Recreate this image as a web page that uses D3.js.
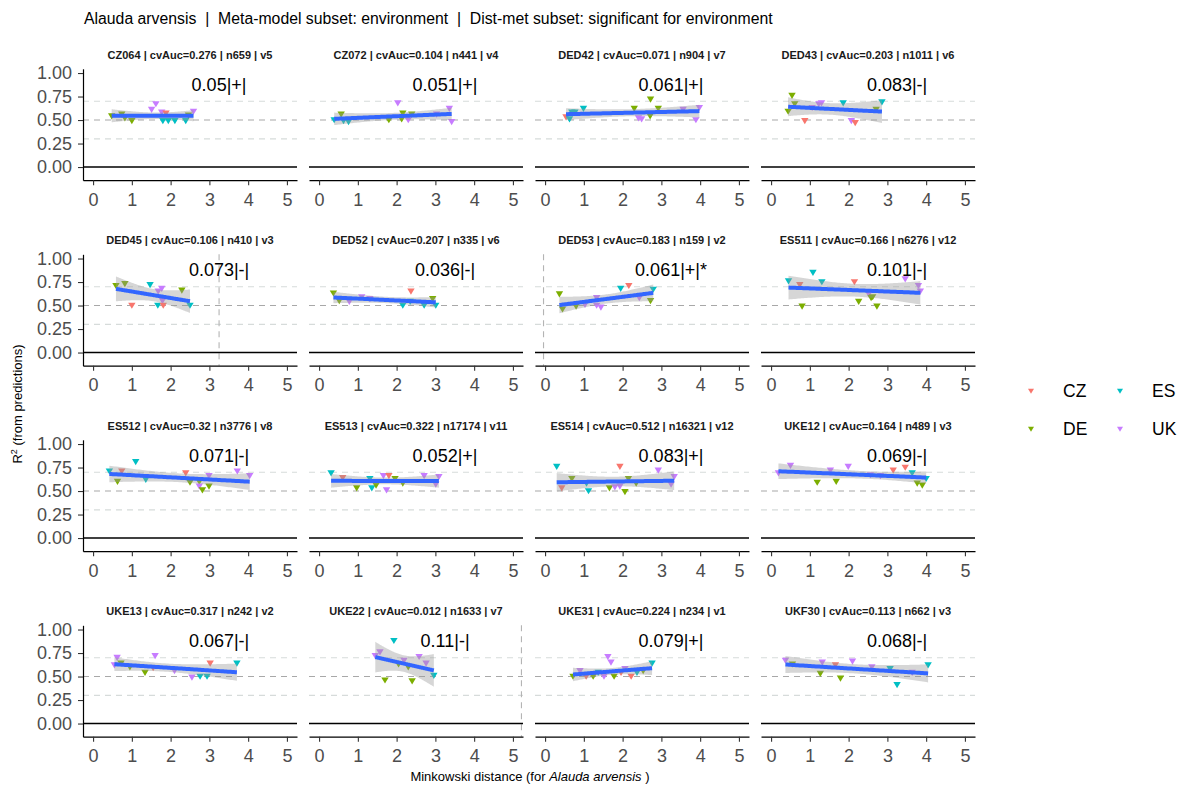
<!DOCTYPE html>
<html>
<head>
<meta charset="utf-8">
<script src="https://cdn.jsdelivr.net/npm/d3@7"></script>
<style>
  body { margin: 0; background: #ffffff; }
  svg { display: block; font-family: "Liberation Sans", Arial, sans-serif; }
</style>
</head>
<body>
<svg id="chart" width="1183" height="789"></svg>
<script>
// ---- data -------------------------------------------------------------
const regions = ["CZ", "DE", "ES", "UK"];
const regionColors = ["#F8766D", "#7CAE00", "#00BFC4", "#C77CFF"];

const panelIds = ["CZ064", "CZ072", "DED42", "DED43", "DED45", "DED52", "DED53", "ES511",
                  "ES512", "ES513", "ES514", "UKE12", "UKE13", "UKE22", "UKE31", "UKF30"];
const cvAuc = ["0.276", "0.104", "0.071", "0.203", "0.106", "0.207", "0.183", "0.166",
               "0.32", "0.322", "0.512", "0.164", "0.317", "0.012", "0.224", "0.113"];
const nObs = [659, 441, 904, 1011, 410, 335, 159, 6276, 3776, 17174, 16321, 489, 242, 1633, 234, 662];
const nVars = [5, 4, 7, 6, 3, 6, 2, 12, 8, 11, 12, 3, 2, 7, 1, 3];
const fitLabels = ["0.05|+|", "0.051|+|", "0.061|+|", "0.083|-|", "0.073|-|", "0.036|-|", "0.061|+|*", "0.101|-|",
                   "0.071|-|", "0.052|+|", "0.083|+|", "0.069|-|", "0.067|-|", "0.11|-|", "0.079|+|", "0.068|-|"];
// distance marker per panel (null = none)
const distMarker = [null, null, null, null, 3.25, null, -0.04, null,
                    null, null, null, null, null, 5.22, null, null];

const xTicks = [0, 1, 2, 3, 4, 5];
const yTicks = [0, 0.25, 0.5, 0.75, 1];
const refLevels = [0.3, 0.5, 0.7];

// Minkowski distance of each comparison, per panel
const pointDist = [
  [0.48, 0.74, 0.82, 1.00, 1.51, 1.62, 1.77, 1.88, 1.80, 1.94, 2.11, 2.39, 2.46, 2.59],
  [0.39, 0.57, 0.63, 0.76, 1.80, 2.03, 2.16, 2.13, 2.30, 2.39, 3.03, 3.36, 3.42],
  [0.54, 0.63, 0.69, 0.77, 0.99, 2.30, 2.41, 2.49, 2.71, 2.72, 2.92, 3.56, 3.89, 3.98],
  [0.44, 0.54, 0.61, 0.87, 1.06, 1.23, 1.30, 1.86, 2.07, 2.17, 2.71, 2.86],
  [0.59, 0.82, 1.00, 1.47, 1.67, 1.68, 1.77, 1.79, 1.81, 2.29, 2.50],
  [0.37, 0.52, 0.78, 1.10, 1.31, 2.37, 2.16, 2.35, 2.71, 2.93, 3.01],
  [0.37, 0.45, 0.80, 1.03, 1.33, 1.33, 1.44, 1.95, 2.16, 2.43, 2.72, 2.79],
  [0.45, 0.74, 0.80, 1.08, 1.31, 2.15, 2.26, 2.52, 2.58, 2.62, 2.73, 3.46, 3.80, 3.85],
  [0.42, 0.74, 0.63, 1.10, 1.36, 2.39, 2.50, 2.74, 2.74, 2.82, 2.99, 2.99, 3.72, 4.04],
  [0.31, 0.61, 0.97, 1.31, 1.36, 1.47, 1.66, 1.80, 1.74, 1.96, 2.16, 2.71, 3.01, 3.09],
  [0.30, 0.43, 0.69, 1.07, 1.12, 1.66, 1.80, 1.93, 1.93, 2.06, 2.15, 2.35, 2.92, 3.25, 3.33],
  [0.19, 0.50, 1.19, 1.53, 1.68, 1.99, 2.56, 2.82, 3.15, 3.46, 3.64, 3.77, 3.90, 4.00],
  [0.55, 0.62, 0.72, 0.95, 1.34, 1.55, 1.60, 2.10, 2.55, 2.76, 2.94, 3.02, 3.71],
  [1.45, 1.57, 1.70, 1.93, 2.05, 2.19, 2.30, 2.40, 2.58, 2.76, 2.96],
  [0.72, 0.90, 1.06, 1.24, 1.37, 1.52, 1.62, 1.70, 1.78, 1.96, 2.06, 2.22, 2.37, 2.53, 2.76],
  [0.37, 0.55, 1.27, 1.32, 1.66, 1.79, 2.10, 2.60, 3.07, 3.25, 3.64, 4.05]
];
// R2 from predictions, per panel
const pointR2 = [
  [0.54, 0.56, 0.52, 0.49, 0.61, 0.67, 0.58, 0.57, 0.49, 0.49, 0.49, 0.49, 0.55, 0.59],
  [0.50, 0.56, 0.49, 0.48, 0.50, 0.68, 0.57, 0.51, 0.50, 0.56, 0.56, 0.62, 0.48],
  [0.53, 0.51, 0.58, 0.58, 0.62, 0.62, 0.52, 0.51, 0.54, 0.72, 0.62, 0.61, 0.50, 0.63],
  [0.59, 0.76, 0.67, 0.49, 0.63, 0.67, 0.68, 0.68, 0.49, 0.47, 0.61, 0.69],
  [0.71, 0.73, 0.50, 0.72, 0.50, 0.65, 0.68, 0.55, 0.50, 0.66, 0.50],
  [0.63, 0.55, 0.54, 0.59, 0.57, 0.65, 0.50, 0.54, 0.50, 0.57, 0.50],
  [0.62, 0.46, 0.49, 0.51, 0.58, 0.50, 0.48, 0.68, 0.71, 0.58, 0.55, 0.67],
  [0.76, 0.72, 0.49, 0.85, 0.75, 0.75, 0.54, 0.62, 0.58, 0.59, 0.49, 0.78, 0.71, 0.65],
  [0.71, 0.71, 0.60, 0.81, 0.62, 0.69, 0.59, 0.60, 0.55, 0.51, 0.66, 0.55, 0.71, 0.66],
  [0.69, 0.64, 0.53, 0.63, 0.53, 0.56, 0.66, 0.66, 0.51, 0.63, 0.58, 0.66, 0.57, 0.65],
  [0.76, 0.53, 0.63, 0.58, 0.50, 0.53, 0.54, 0.55, 0.76, 0.49, 0.63, 0.58, 0.72, 0.57, 0.65],
  [0.69, 0.77, 0.59, 0.72, 0.60, 0.76, 0.67, 0.66, 0.72, 0.75, 0.69, 0.58, 0.56, 0.63],
  [0.62, 0.70, 0.64, 0.60, 0.54, 0.59, 0.72, 0.56, 0.49, 0.50, 0.50, 0.64, 0.64],
  [0.72, 0.76, 0.46, 0.88, 0.63, 0.67, 0.60, 0.45, 0.71, 0.64, 0.51],
  [0.50, 0.56, 0.50, 0.50, 0.54, 0.50, 0.71, 0.65, 0.50, 0.54, 0.58, 0.50, 0.54, 0.56, 0.64],
  [0.67, 0.63, 0.53, 0.65, 0.62, 0.48, 0.66, 0.60, 0.58, 0.41, 0.54, 0.62]
];
// region of the compared area, per panel
const pointRegion = [
  ["DE","DE","DE","DE","UK","UK","UK","CZ","ES","ES","ES","ES","DE","UK"],
  ["ES","DE","ES","ES","DE","UK","DE","DE","UK","DE","UK","UK","UK"],
  ["CZ","ES","ES","ES","ES","DE","UK","UK","DE","DE","DE","UK","UK","UK"],
  ["DE","DE","DE","CZ","UK","UK","UK","ES","UK","CZ","DE","ES"],
  ["DE","DE","CZ","ES","ES","UK","UK","UK","CZ","DE","ES"],
  ["DE","DE","UK","UK","UK","CZ","ES","ES","ES","DE","ES"],
  ["DE","DE","DE","UK","UK","UK","UK","ES","CZ","UK","DE","ES"],
  ["ES","CZ","DE","ES","ES","CZ","DE","UK","DE","DE","DE","UK","UK","UK"],
  ["ES","CZ","DE","ES","ES","CZ","DE","DE","UK","DE","UK","DE","UK","UK"],
  ["ES","CZ","DE","ES","ES","DE","UK","CZ","UK","DE","DE","UK","UK","UK"],
  ["ES","CZ","DE","ES","ES","DE","UK","UK","CZ","DE","DE","DE","UK","UK","UK"],
  ["UK","UK","DE","UK","DE","UK","UK","UK","CZ","CZ","ES","DE","DE","ES"],
  ["UK","UK","DE","DE","DE","CZ","UK","UK","UK","ES","ES","CZ","ES"],
  ["UK","UK","DE","ES","DE","UK","DE","DE","UK","UK","ES"],
  ["DE","UK","CZ","DE","ES","UK","UK","UK","DE","CZ","UK","CZ","ES","DE","ES"],
  ["UK","DE","DE","UK","CZ","DE","UK","UK","ES","ES","UK","ES"]
];

// ---- layout -----------------------------------------------------------
const nCols = 4;
const colStep = 226, rowStep = 185.5;
const panelW = 214, panelH = 111.4;
const originX = 83, originY = 68.8;

const colour = d3.scaleOrdinal().domain(regions).range(regionColors);
const x = d3.scaleLinear().domain([-0.26, 5.26]).range([0, panelW]);
const y = d3.scaleLinear().domain([-0.14, 1.045]).range([panelH, 0]);

const svg = d3.select("#chart");
svg.append("rect").attr("width", 1183).attr("height", 789).attr("fill", "#ffffff");

const triDown = "M-3.7,-2.9L3.7,-2.9L0,3.3Z";

// Student t 0.975 quantile (Cornish-Fisher expansion)
function tQuantile975(df) {
  const z = 1.959964;
  const g1 = (Math.pow(z, 3) + z) / 4;
  const g2 = (5 * Math.pow(z, 5) + 16 * Math.pow(z, 3) + 3 * z) / 96;
  const g3 = (3 * Math.pow(z, 7) + 19 * Math.pow(z, 5) + 17 * Math.pow(z, 3) - 15 * z) / 384;
  return z + g1 / df + g2 / (df * df) + g3 / (df * df * df);
}

// ordinary least squares with 95% confidence band of the mean
function linearFit(xs, ys) {
  const n = xs.length;
  const mx = d3.mean(xs), my = d3.mean(ys);
  let sxx = 0, sxy = 0;
  for (let i = 0; i < n; i++) { sxx += (xs[i] - mx) ** 2; sxy += (xs[i] - mx) * (ys[i] - my); }
  const b = sxy / sxx, a = my - b * mx;
  let sse = 0;
  for (let i = 0; i < n; i++) sse += (ys[i] - a - b * xs[i]) ** 2;
  const s = Math.sqrt(sse / (n - 2));
  const t = tQuantile975(n - 2);
  const [lo, hi] = d3.extent(xs);
  const grid = d3.range(0, 81).map(k => lo + (hi - lo) * k / 80);
  return grid.map(gx => {
    const fit = a + b * gx;
    const se = s * Math.sqrt(1 / n + (gx - mx) ** 2 / sxx);
    return { x: gx, fit: fit, lo: fit - t * se, hi: fit + t * se };
  });
}

panelIds.forEach((id, p) => {
  const col = p % nCols, row = Math.floor(p / nCols);
  const g = svg.append("g")
    .attr("transform", `translate(${originX + col * colStep},${originY + row * rowStep})`);

  // reference levels
  g.selectAll("line.ref").data(refLevels).join("line")
    .attr("class", "ref")
    .attr("x1", 0).attr("x2", panelW)
    .attr("y1", d => y(d)).attr("y2", d => y(d))
    .attr("stroke", d => d === 0.5 ? "#a8a8a8" : "#d6dbda")
    .attr("stroke-width", 1.1)
    .attr("stroke-dasharray", "6,5");

  // distance marker
  if (distMarker[p] !== null) {
    g.append("line")
      .attr("x1", x(distMarker[p])).attr("x2", x(distMarker[p]))
      .attr("y1", 0).attr("y2", panelH)
      .attr("stroke", "#b4b4b4").attr("stroke-width", 1.1)
      .attr("stroke-dasharray", "6,5");
  }

  // zero line
  g.append("line")
    .attr("x1", 0).attr("x2", panelW)
    .attr("y1", y(0)).attr("y2", y(0))
    .attr("stroke", "#000000").attr("stroke-width", 1.4);

  // points
  const pts = pointDist[p].map((d, i) => ({ d: d, r2: pointR2[p][i], reg: pointRegion[p][i] }));
  g.selectAll("path.pt").data(pts).join("path")
    .attr("class", "pt")
    .attr("d", triDown)
    .attr("transform", d => `translate(${x(d.d)},${y(d.r2)})`)
    .attr("fill", d => colour(d.reg));

  // linear smooth with confidence band
  const band = linearFit(pointDist[p], pointR2[p]);
  g.append("path").datum(band)
    .attr("d", d3.area().x(d => x(d.x)).y0(d => y(d.lo)).y1(d => y(d.hi)))
    .attr("fill", "#999999").attr("fill-opacity", 0.4);
  g.append("path").datum(band)
    .attr("d", d3.line().x(d => x(d.x)).y(d => y(d.fit)))
    .attr("fill", "none").attr("stroke", "#3366FF").attr("stroke-width", 4);

  // fit statistic
  g.append("text")
    .attr("x", x(3.25)).attr("y", y(0.88)).attr("dy", "0.36em")
    .attr("text-anchor", "middle")
    .attr("font-size", 18).attr("fill", "#000000")
    .text(fitLabels[p]);

  // strip title
  g.append("text")
    .attr("x", panelW / 2).attr("y", -10)
    .attr("text-anchor", "middle")
    .attr("font-size", 11).attr("font-weight", "bold").attr("fill", "#1A1A1A")
    .text(`${id} | cvAuc=${cvAuc[p]} | n${nObs[p]} | v${nVars[p]}`);

  // x axis
  const xa = g.append("g").attr("transform", `translate(0,${panelH})`)
    .call(d3.axisBottom(x).tickValues(xTicks).tickSize(5).tickSizeOuter(0).tickPadding(8).tickFormat(d3.format("d")));
  xa.select(".domain").attr("stroke", "#000000").attr("stroke-width", 1.2);
  xa.selectAll(".tick line").attr("stroke", "#333333").attr("stroke-width", 1.1);
  xa.selectAll(".tick text").attr("font-size", 18).attr("fill", "#4D4D4D")
    .attr("font-family", "Liberation Sans, Arial, sans-serif");

  // y axis on first column
  if (col === 0) {
    const ya = g.append("g")
      .call(d3.axisLeft(y).tickValues(yTicks).tickSize(5).tickSizeOuter(0).tickPadding(6).tickFormat(d3.format(".2f")));
    ya.select(".domain").attr("stroke", "#000000").attr("stroke-width", 1.2);
    ya.selectAll(".tick line").attr("stroke", "#333333").attr("stroke-width", 1.1);
    ya.selectAll(".tick text").attr("font-size", 18).attr("fill", "#4D4D4D")
      .attr("font-family", "Liberation Sans, Arial, sans-serif");
  }
});

// ---- titles -----------------------------------------------------------
svg.append("text")
  .attr("x", 84).attr("y", 23.5)
  .attr("font-size", 15.8).attr("fill", "#000000")
  .attr("xml:space", "preserve")
  .text("Alauda arvensis  |  Meta-model subset: environment  |  Dist-met subset: significant for environment");

const yTitle = svg.append("text")
  .attr("transform", "translate(22,404) rotate(-90)")
  .attr("text-anchor", "middle")
  .attr("font-size", 13).attr("fill", "#000000");
yTitle.append("tspan").text("R");
yTitle.append("tspan").attr("font-size", 9).attr("dy", -5).text("2");
yTitle.append("tspan").attr("dy", 5).text(" (from predictions)");

const xTitle = svg.append("text")
  .attr("x", 530).attr("y", 780.5)
  .attr("text-anchor", "middle")
  .attr("font-size", 13).attr("fill", "#000000");
xTitle.append("tspan").text("Minkowski distance (for ");
xTitle.append("tspan").attr("font-style", "italic").text("Alauda arvensis");
xTitle.append("tspan").text(" )");

// ---- legend -----------------------------------------------------------
const legendPos = [[1031, 391], [1031, 429], [1120, 391], [1120, 429]];
regions.forEach((r, i) => {
  const [lx, ly] = legendPos[i];
  svg.append("path")
    .attr("d", "M-3,-2.3L3,-2.3L0,2.7Z")
    .attr("transform", `translate(${lx},${ly})`)
    .attr("fill", colour(r));
  svg.append("text")
    .attr("x", lx + 32).attr("y", ly).attr("dy", "0.36em")
    .attr("font-size", 17.5).attr("fill", "#000000")
    .text(r);
});
</script>
</body>
</html>
